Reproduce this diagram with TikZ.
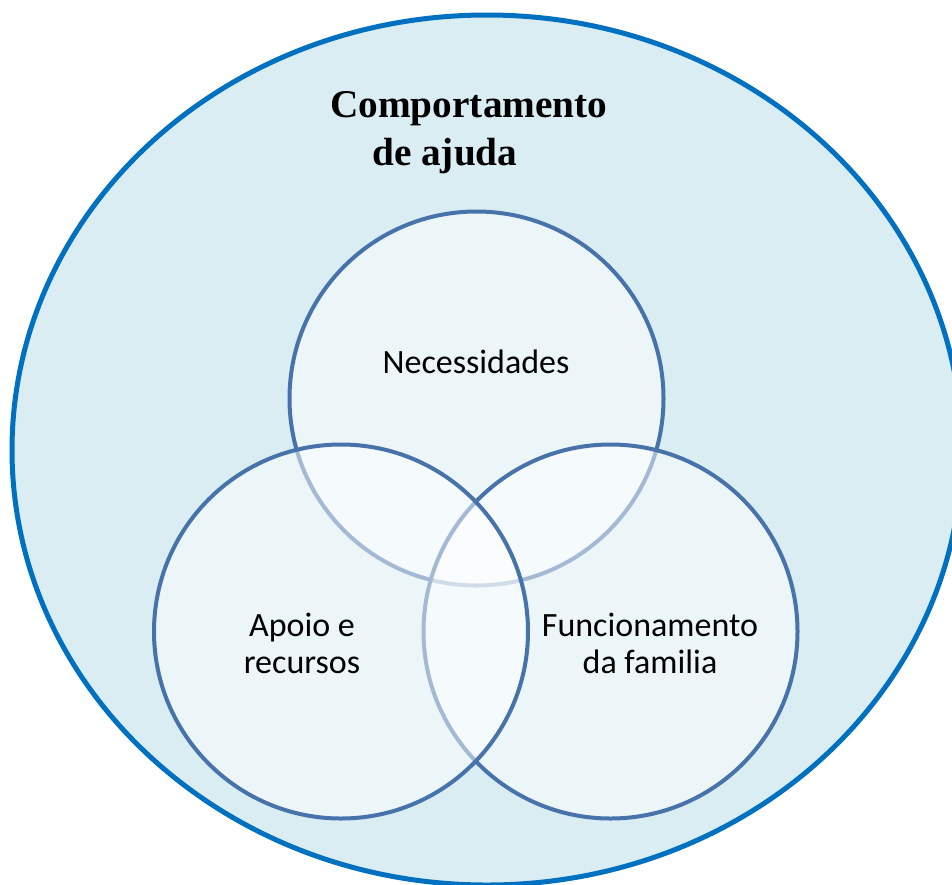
\documentclass[tikz,border=0pt]{standalone}
\usepackage{fontspec}
\setmainfont{Carlito}
\newfontfamily\titlefont{Liberation Serif}
\definecolor{outerfill}{RGB}{218,237,243}
\definecolor{outerline}{RGB}{0,112,192}
\definecolor{vennline}{RGB}{71,115,170}
\tikzset{
  outer/.style={draw=outerline, line width=5pt, fill=outerfill},
  venn/.style={draw=vennline, line width=4pt, fill=white, fill opacity=0.5},
  lbl/.style={font=\fontsize{34}{37}\selectfont, text=black, inner sep=0pt},
  ttl/.style={font=\titlefont\bfseries\fontsize{39.3}{48}\selectfont, text=black, inner sep=0pt}
}
\begin{document}
\begin{tikzpicture}[x=1pt,y=-1pt]
\useasboundingbox (0,0) rectangle (952,884);
\clip (0,0) rectangle (952,884);
\fill[white] (0,0) rectangle (952,884);
\draw[outer] (487,450) ellipse [x radius=475, y radius=435];
\draw[venn] (476.5,398.5) circle [radius=187];
\draw[venn] (610.5,631.5) circle [radius=187];
\draw[venn] (341,631.5) circle [radius=187];
\node[ttl, anchor=base west] (t1) at (330,117) {Comportamento};
\node[ttl, anchor=base west] (t2) at (372,165) {de ajuda};
\node[lbl, anchor=base] (n) at (476,373) {Necessidades};
\node[lbl, anchor=base] (a1) at (302,636) {Apoio e};
\node[lbl, anchor=base] (a2) at (302,673) {recursos};
\node[lbl, anchor=base] (f1) at (650,636) {Funcionamento};
\node[lbl, anchor=base] (f2) at (650,673) {da familia};
\end{tikzpicture}
\end{document}
